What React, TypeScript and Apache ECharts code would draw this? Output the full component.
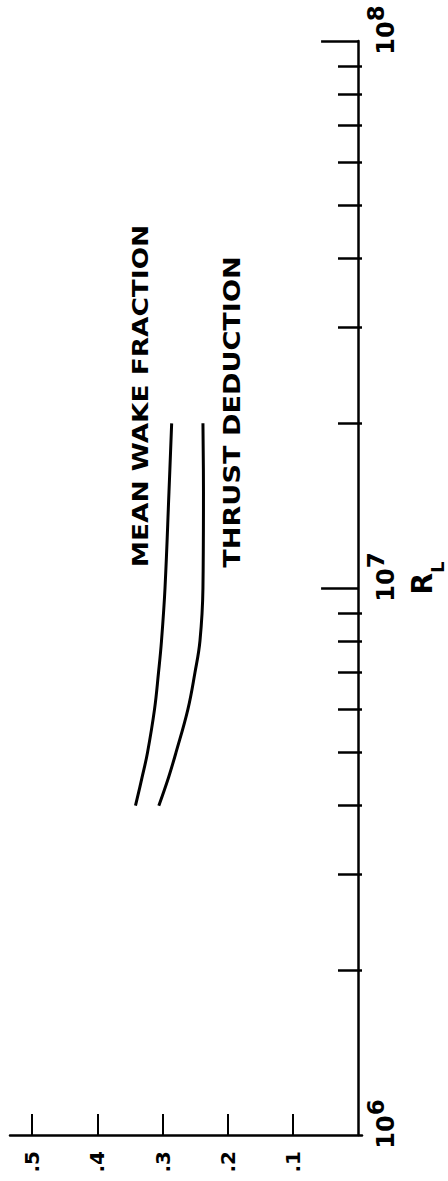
import React, { useEffect, useRef } from "react";
import * as echarts from "echarts";

const reynolds = [4e6, 4.5e6, 5e6, 6e6, 7e6, 8e6, 1e7, 1.5e7, 2e7];
const meanWake = [0.3415, 0.3315, 0.3231, 0.3123, 0.3062, 0.3016, 0.2962, 0.2901, 0.286];
const thrustDeduction = [0.3057, 0.2909, 0.2794, 0.2611, 0.2503, 0.2426, 0.238, 0.2372, 0.238];
const valueTicks = [0.1, 0.2, 0.3, 0.4, 0.5];
const majorTicks = [1e7, 1e8];
const majorLabels = [1e6, 1e7, 1e8];
const minorTicks = [2e6, 3e6, 4e6, 5e6, 6e6, 7e6, 8e6, 9e6, 2e7, 3e7, 4e7, 5e7, 6e7, 7e7, 8e7, 9e7];

const FONT = "DejaVu Sans";

export default function App() {
  const ref = useRef<HTMLDivElement>(null);
  useEffect(() => {
    if (!ref.current) return;
    const chart = echarts.init(ref.current, null, { renderer: "svg" });
    const pair = (vals: number[]) => vals.map((v, i) => [v, reynolds[i]]);
    chart.setOption({
      animation: false,
      backgroundColor: "#fff",
      grid: { left: 10, right: 86, top: 41, bottom: 46, containLabel: false, outerBoundsMode: "none" },
      xAxis: {
        type: "value",
        inverse: true,
        min: -0.006,
        max: 0.534,
        splitLine: { show: false },
        axisLine: { show: true, lineStyle: { color: "#000", width: 2.5 } },
        axisTick: {
          show: true,
          inside: true,
          length: 21,
          customValues: valueTicks,
          lineStyle: { color: "#000", width: 2 },
        },
        axisLabel: {
          show: true,
          customValues: valueTicks,
          rotate: 90,
          margin: 16,
          color: "#000",
          fontFamily: FONT,
          fontWeight: "bold",
          fontSize: 20,
          formatter: (v: number) => "." + Math.round(v * 10),
        },
      },
      yAxis: [
        {
          type: "log",
          logBase: 10,
          min: 1e6,
          max: 1e8,
          position: "right",
          splitLine: { show: false },
          axisLine: { show: true, lineStyle: { color: "#000", width: 2.5 } },
          axisTick: {
            show: true,
            inside: true,
            length: 37,
            customValues: majorTicks,
            lineStyle: { color: "#000", width: 2.5 },
          },
          axisLabel: {
            show: true,
            customValues: majorLabels,
            rotate: 90,
            margin: 2,
            formatter: (v: number) => "{b|10}{s|" + Math.round(Math.log10(v)) + "}",
            rich: {
              b: {
                fontFamily: FONT,
                fontWeight: "bold",
                fontSize: 24,
                lineHeight: 34,
                verticalAlign: "bottom",
                color: "#000",
                padding: [0, 0, 0, 22],
              },
              s: {
                fontFamily: FONT,
                fontWeight: "bold",
                fontSize: 23,
                lineHeight: 24,
                verticalAlign: "top",
                color: "#000",
              },
            },
          },
          name: "{r|R}{l|L}",
          nameLocation: "middle",
          nameRotate: 90,
          nameGap: 46,
          nameTextStyle: {
            rich: {
              r: {
                fontFamily: FONT,
                fontWeight: "bold",
                fontSize: 28,
                lineHeight: 30,
                verticalAlign: "top",
                color: "#000",
                padding: [0, 0, 0, 20],
              },
              l: {
                fontFamily: FONT,
                fontWeight: "bold",
                fontSize: 18,
                lineHeight: 38,
                verticalAlign: "bottom",
                color: "#000",
              },
            },
          },
        },
        {
          type: "log",
          logBase: 10,
          min: 1e6,
          max: 1e8,
          position: "right",
          splitLine: { show: false },
          axisLine: { show: false },
          axisTick: {
            show: true,
            inside: true,
            length: 24,
            customValues: minorTicks,
            lineStyle: { color: "#000", width: 2.5 },
          },
          axisLabel: { show: false },
        },
      ],
      series: [
        {
          name: "MEAN WAKE FRACTION",
          type: "line",
          yAxisIndex: 0,
          data: pair(meanWake),
          smooth: 0.4,
          showSymbol: false,
          symbol: "none",
          lineStyle: { color: "#000", width: 3 },
        },
        {
          name: "THRUST DEDUCTION",
          type: "line",
          yAxisIndex: 0,
          data: pair(thrustDeduction),
          smooth: 0.4,
          showSymbol: false,
          symbol: "none",
          lineStyle: { color: "#000", width: 3 },
        },
      ],
      graphic: [
        {
          type: "text",
          x: 140,
          y: 396,
          rotation: Math.PI / 2,
          scaleX: 1.2,
          style: {
            text: "MEAN WAKE FRACTION",
            fontFamily: FONT,
            fontWeight: "bold",
            fontSize: 22,
            fill: "#000",
            align: "center",
            verticalAlign: "middle",
          },
        },
        {
          type: "text",
          x: 232,
          y: 412,
          rotation: Math.PI / 2,
          scaleX: 1.18,
          style: {
            text: "THRUST DEDUCTION",
            fontFamily: FONT,
            fontWeight: 600,
            fontSize: 23,
            fill: "#000",
            align: "center",
            verticalAlign: "middle",
          },
        },
      ],
    });
    return () => chart.dispose();
  }, []);
  return (
    <div
      ref={ref}
      style={{ position: "fixed", left: 0, top: 0, width: 448, height: 1181, background: "#fff" }}
    />
  );
}
